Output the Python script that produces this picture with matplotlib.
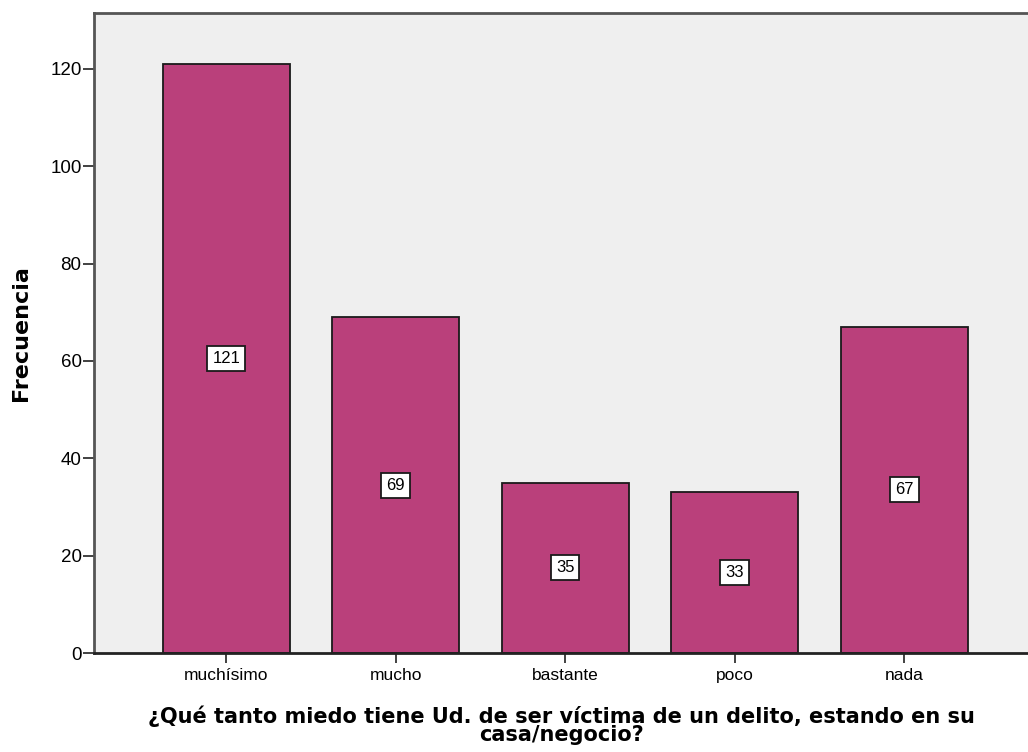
import matplotlib
matplotlib.use("Agg")
import matplotlib.pyplot as plt

categorias = ["muchísimo", "mucho", "bastante", "poco", "nada"]
frecuencias = [121, 69, 35, 33, 67]
yticks = [0, 20, 40, 60, 80, 100, 120]

plt.rcParams['font.family'] = ['Liberation Sans', 'DejaVu Sans']

fig = plt.figure(figsize=(10.28, 7.52), dpi=100)
ax = fig.add_axes([94 / 1028, 99 / 752, 1 - 94 / 1028, 640 / 752])
ax.set_facecolor('#efefef')

x = range(len(categorias))
ax.bar(x, frecuencias, width=0.75, color='#ba407b', edgecolor='#1a1a1a', linewidth=1.3, zorder=2)

# etiquetas de valor en el centro de cada barra
for xi, v in zip(x, frecuencias):
    ax.text(xi, v / 2, str(v), ha='center', va='center', fontsize=12, zorder=3,
            bbox=dict(boxstyle='square,pad=0.3', facecolor='white', edgecolor='#1a1a1a', linewidth=1.3))

ax.set_xlim(-0.78, 4.73)
ax.set_ylim(0, 131.5)
ax.set_xticks(list(x))
ax.set_xticklabels(categorias, fontsize=12.5)
ax.set_yticks(yticks)
ax.set_yticklabels([str(t) for t in yticks], fontsize=13.5)
ax.tick_params(axis='y', length=8, width=1.3, color='#333333', pad=1)
ax.tick_params(axis='x', length=7, width=1.3, color='#333333', pad=4)

for lado in ['left', 'top', 'bottom']:
    ax.spines[lado].set_color('#555555')
    ax.spines[lado].set_linewidth(2)
ax.spines['bottom'].set_color('#222222')
ax.spines['right'].set_visible(False)

ax.set_ylabel('Frecuencia', fontsize=16, fontweight='bold', family='DejaVu Sans', labelpad=14)
ax.set_xlabel('¿Qué tanto miedo tiene Ud. de ser víctima de un delito, estando en su\ncasa/negocio?',
              fontsize=15, fontweight='bold', family='DejaVu Sans', labelpad=16, linespacing=0.9)

fig.savefig('out.png', dpi=100)
